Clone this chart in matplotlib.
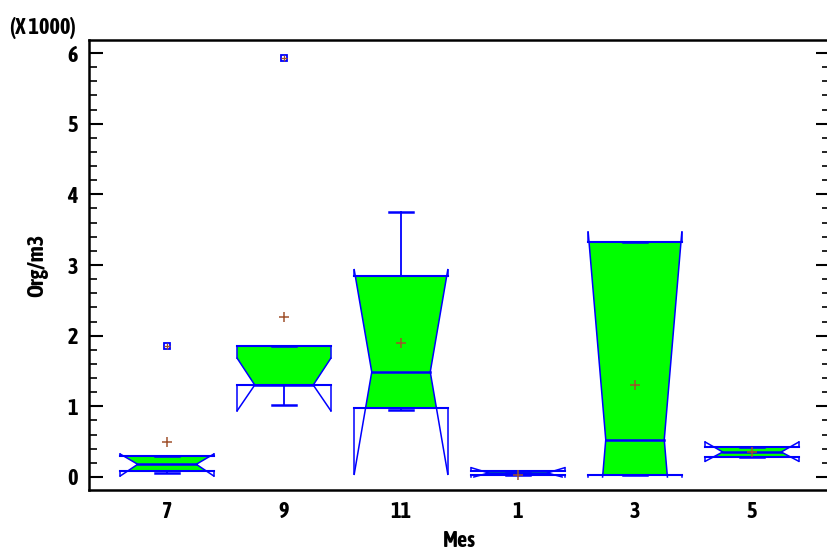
import numpy as np
import matplotlib
matplotlib.use('Agg')
import matplotlib.pyplot as plt
from matplotlib import font_manager
from matplotlib.ticker import MultipleLocator

# Box statistics (Org/m3)
months = ['7', '9', '11', '1', '3', '5']
q1 = [89, 1302, 981, 28, 28, 279]
med = [180, 1302, 1486, 57, 528, 354]
q3 = [304, 1858, 2849, 89, 3321, 420]
whiskLo = [52, 1019, 948, 28, 28, 279]
whiskHi = [304, 1858, 3750, 89, 3321, 420]
notchLo = [14, 938, 38, -10, -2407, 222]
notchHi = [325, 1680, 2934, 132, 3463, 495]
means = [490, 2268, 1892, 30, 1297, 354]
outMonth = ['7', '9']
outVal = [1854, 5934]


def isBold(w):
    if isinstance(w, str):
        return w in ('bold', 'heavy', 'extra bold', 'black', 'semibold', 'demibold')
    return w >= 600


# narrow upright bold sans if one is installed (original looks like Arial Narrow Bold)
narrowStretch = ('condensed', 'semi-condensed', 'extra-condensed', 'ultra-condensed')
narrow = sorted(set(f.name for f in font_manager.fontManager.ttflist
                    if isBold(f.weight) and f.style == 'normal' and
                    ('Narrow' in f.name or 'Condensed' in f.name or
                     f.stretch in narrowStretch)))
fontFam = narrow[:1] + ['Liberation Sans', 'DejaVu Sans']
plt.rcParams['font.family'] = fontFam
plt.rcParams['font.weight'] = 'bold'
plt.rcParams['font.style'] = 'normal'
fs = 16

blue = '#0000FF'
green = '#00FF00'
brown = '#A0522D'
hw = 0.40   # box half width
nw = 0.25   # half width at the notch
capW = 0.10
floorVal = 0.0

fig = plt.figure(figsize=(8.27, 5.52), dpi=100)
ax = fig.add_axes([89/827, 62/552, 741/827, 450/552])


def halfWidth(y, m, lo, hi):
    if y >= hi or y <= lo:
        return hw
    if y >= m:
        return nw + (hw - nw) * (y - m) / (hi - m)
    return nw + (hw - nw) * (m - y) / (m - lo)


for i in range(len(months)):
    x = i + 1
    a, m, b = q1[i] / 1000, med[i] / 1000, q3[i] / 1000
    lo, hi = notchLo[i] / 1000, notchHi[i] / 1000
    loDraw = max(lo, floorVal)

    # green fill between Q1 and Q3 following the notch
    ys = sorted(set([a, b] + [v for v in (m, lo, hi) if a < v < b]))
    left = [(x - halfWidth(y, m, lo, hi), y) for y in ys]
    right = [(x + halfWidth(y, m, lo, hi), y) for y in ys[::-1]]
    poly = np.array(left + right)
    ax.fill(poly[:, 0], poly[:, 1], color=green, lw=0, zorder=2)

    # whiskers
    wl, wh = whiskLo[i] / 1000, whiskHi[i] / 1000
    ax.plot([x, x], [a, wl], color=blue, lw=1.3, zorder=3)
    ax.plot([x, x], [b, wh], color=blue, lw=1.3, zorder=3)
    ax.plot([x - capW, x + capW], [wl, wl], color=blue, lw=1.8, zorder=3)
    ax.plot([x - capW, x + capW], [wh, wh], color=blue, lw=1.8, zorder=3)

    # box ends and median
    ax.plot([x - hw, x + hw], [a, a], color=blue, lw=1.5, zorder=4)
    ax.plot([x - hw, x + hw], [b, b], color=blue, lw=1.5, zorder=4)
    mw = halfWidth(m, m, lo, hi)
    ax.plot([x - mw, x + mw], [m, m], color=blue, lw=1.8, zorder=4)

    # notch outline
    lw0 = halfWidth(loDraw, m, lo, hi)
    for s in (-1, 1):
        ax.plot([x + s * hw, x + s * nw, x + s * lw0], [hi, m, loDraw],
                color=blue, lw=1.1, zorder=4)
        ax.plot([x + s * hw, x + s * hw], [b, hi], color=blue, lw=1.1, zorder=4)
        ax.plot([x + s * hw, x + s * hw], [a, loDraw], color=blue, lw=1.1, zorder=4)

    ax.plot(x, means[i] / 1000, marker='+', color=brown, ms=7, mew=1.1,
            ls='none', zorder=5)

# outside points
for mo, v in zip(outMonth, outVal):
    x = months.index(mo) + 1
    ax.plot(x, v / 1000, marker='s', ms=5, mfc='none', mec=blue, mew=1.3,
            ls='none', zorder=5)
    ax.plot(x, v / 1000, marker='+', ms=4, color=brown, mew=0.9,
            ls='none', zorder=6)

ax.set_xlim(1/3, 6 + 2/3)
ax.set_ylim(-0.184, 6.184)
ax.set_xticks(range(1, len(months) + 1))
ax.set_xticklabels(months)
ax.yaxis.set_major_locator(MultipleLocator(1))
ax.yaxis.set_minor_locator(MultipleLocator(0.2))

ax.tick_params(axis='x', length=0, pad=8, labelsize=fs)
ax.tick_params(axis='y', which='major', direction='in', length=10, width=1.5,
               labelsize=fs, right=True, pad=8)
ax.tick_params(axis='y', which='minor', direction='in', length=5.5, width=1.2,
               right=True)

for side in ('left', 'bottom', 'top'):
    ax.spines[side].set_linewidth(1.8)
ax.spines['right'].set_visible(False)

ax.set_xlabel('Mes', fontsize=fs, fontweight='bold', labelpad=5)
ax.set_ylabel('Org/m3', fontsize=fs, fontweight='bold', labelpad=14)
fig.text(10/827, 1 - 28/552, '(X 1000)', fontsize=fs, fontweight='bold',
         ha='left', va='center')

fig.savefig('out.png', dpi=100)
